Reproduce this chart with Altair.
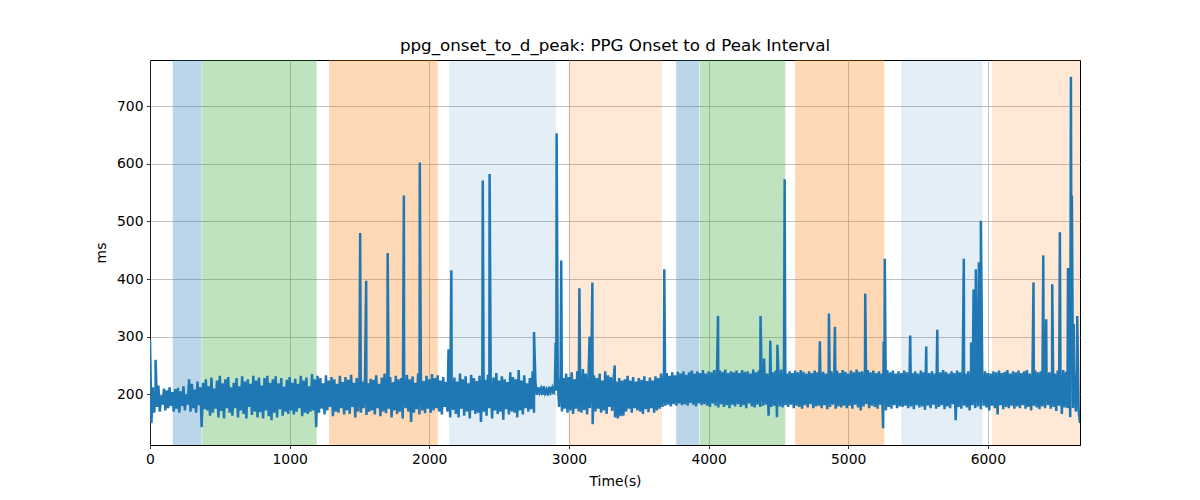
import altair as alt
import pandas as pd

base_values = [
    295, 150, 212, 168, 205, 178, 215, 170, 198, 182, 210, 172, 207, 176, 212, 180, 204, 170, 209, 175,
    211, 168, 205, 180, 214, 172, 200, 182, 226, 170, 218, 176, 208, 168, 222, 181, 212, 143, 220, 174,
    226, 172, 214, 163, 229, 168, 210, 175, 224, 160, 232, 171, 219, 158, 226, 176, 230, 168, 212, 163,
    220, 176, 228, 160, 214, 172, 231, 166, 222, 158, 226, 178, 218, 164, 232, 170, 224, 160, 229, 169,
    215, 158, 228, 172, 232, 162, 220, 155, 226, 168, 231, 160, 219, 174, 228, 163, 213, 170, 225, 166,
    230, 172, 220, 165, 227, 170, 218, 176, 232, 162, 224, 168, 229, 166, 214, 170, 235, 172, 226, 143,
    232, 168, 228, 175, 219, 165, 233, 172, 224, 178, 230, 162, 226, 170, 218, 168, 232, 176, 221, 165,
    230, 172, 225, 166, 234, 178, 220, 160, 228, 170, 232, 168, 222, 176, 230, 164, 219, 170, 227, 172,
    225, 165, 233, 176, 218, 162, 229, 170, 236, 167, 224, 175, 230, 160, 221, 172, 232, 166, 226, 170,
    228, 158, 222, 176, 234, 170, 226, 152, 231, 168, 220, 174, 236, 165, 228, 172, 223, 167, 232, 175,
    226, 168, 235, 172, 228, 176, 233, 170, 224, 165, 230, 178, 221, 170, 232, 160, 225, 173, 229, 166,
    222, 160, 236, 175, 226, 163, 231, 170, 219, 158, 234, 172, 228, 166, 223, 168, 232, 152, 227, 170,
    225, 163, 234, 176, 220, 158, 229, 172, 237, 166, 224, 170, 231, 156, 226, 174, 221, 165, 238, 170,
    230, 168, 226, 160, 242, 172, 224, 165, 233, 176, 219, 170, 228, 174, 240, 168, 222, 199, 212, 203,
    210, 199, 214, 202, 208, 198, 213, 204, 211, 201, 218, 206, 225, 178, 232, 170, 228, 175, 236, 168,
    230, 172, 238, 166, 226, 175, 240, 170, 232, 168, 244, 173, 236, 165, 229, 176, 241, 148, 233, 170,
    228, 175, 236, 168, 224, 172, 240, 166, 233, 178, 230, 171, 226, 160, 222, 158, 228, 162, 224, 163,
    226, 170, 232, 175, 224, 168, 230, 176, 222, 172, 228, 170, 225, 166, 231, 174, 223, 169, 229, 176,
    224, 168, 231, 172, 228, 175, 236, 178, 230, 180, 237, 182, 232, 179, 238, 183, 233, 180, 239, 184,
    236, 181, 240, 183, 234, 180, 238, 185, 241, 182, 236, 179, 240, 184, 237, 181, 242, 183, 236, 180,
    240, 178, 238, 184, 242, 180, 236, 177, 241, 183, 239, 178, 243, 181, 237, 176, 240, 182, 238, 179,
    241, 183, 237, 178, 242, 181, 239, 176, 240, 184, 236, 179, 243, 177, 238, 182, 241, 178, 237, 180,
    240, 182, 236, 163, 242, 178, 238, 180, 241, 160, 237, 179, 243, 177, 239, 181, 236, 178, 240, 182,
    237, 176, 241, 180, 238, 178, 242, 175, 239, 181, 236, 177, 240, 183, 237, 176, 241, 179, 238, 180,
    242, 176, 239, 181, 236, 174, 243, 178, 240, 182, 238, 175, 241, 179, 237, 177, 242, 180, 239, 176,
    236, 180, 241, 175, 238, 182, 243, 177, 239, 172, 240, 179, 237, 183, 242, 176, 238, 180, 241, 178,
    237, 175, 240, 182, 236, 141, 239, 172, 242, 178, 238, 175, 241, 181, 236, 176, 240, 179, 237, 178,
    241, 180, 238, 176, 242, 179, 237, 174, 240, 181, 236, 177, 241, 179, 238, 173, 242, 180, 237, 176,
    240, 182, 236, 175, 241, 178, 238, 181, 242, 174, 239, 179, 236, 176, 240, 183, 237, 155, 241, 178,
    238, 175, 242, 180, 236, 177, 240, 172, 238, 181, 241, 176, 237, 179, 242, 174, 236, 180, 240, 177,
    237, 172, 236, 180, 240, 176, 238, 165, 241, 181, 237, 174, 239, 178, 242, 176, 236, 180, 240, 175,
    238, 179, 241, 176, 237, 181, 240, 175, 242, 178, 236, 172, 239, 180, 241, 177, 238, 174, 240, 179,
    237, 176, 242, 181, 238, 175, 240, 178, 236, 171, 241, 180, 237, 166, 242, 177, 239, 176, 240, 160,
    238, 176, 242, 170, 236, 172, 150,
]
base_step = 10

# Isolated spikes (time in s, value in ms)
spike_times = [40, 1505, 1548, 1702, 1818, 1932, 2138, 2158, 2383, 2432, 2750, 2905, 2912, 2945,
               3075, 3148, 3168, 3328, 3683, 4068, 4372, 4398, 4442, 4493, 4545, 4797, 4862, 4905,
               5122, 5254, 5262, 5444, 5559, 5638, 5828, 5880, 5898, 5914, 5936, 5950, 6327, 6397,
               6418, 6461, 6516, 6574, 6595, 6602, 6615, 6640]
spike_values = [260, 480, 397, 445, 545, 602, 278, 415, 571, 582, 308, 290, 653, 432,
                384, 300, 394, 250, 417, 336, 336, 262, 293, 286, 573, 292, 340, 317,
                375, 291, 435, 302, 283, 312, 435, 290, 382, 417, 429, 501, 394, 441,
                330, 391, 481, 419, 751, 545, 322, 336]

# Shaded periods
span_start = [163, 374, 1282, 2142, 3000, 3768, 3937, 4620, 5380, 6030]
span_end = [370, 1194, 2061, 2908, 3667, 3933, 4549, 5258, 5962, 6660]
span_color = ["#1f77b4", "#2ca02c", "#ff7f0e", "#1f77b4", "#ff7f0e",
              "#1f77b4", "#2ca02c", "#ff7f0e", "#1f77b4", "#ff7f0e"]
span_alpha = [0.3, 0.3, 0.3, 0.12, 0.17, 0.3, 0.3, 0.3, 0.12, 0.17]

base_times = [i * base_step for i in range(len(base_values))]
series = pd.DataFrame({"t": base_times + spike_times, "v": base_values + spike_values})
series = series.sort_values("t", kind="stable").reset_index(drop=True)

spans = pd.DataFrame({"s": span_start, "e": span_end, "c": span_color, "a": span_alpha})

W, H = 930, 385
x_scale = alt.Scale(domain=[0, 6660], nice=False, zero=False)
y_scale = alt.Scale(domain=[112, 780], nice=False, zero=False)

rects = alt.Chart(spans).mark_rect(strokeWidth=1).encode(
    x=alt.X("s:Q", scale=x_scale),
    x2="e:Q",
    color=alt.Color("c:N", scale=None),
    opacity=alt.Opacity("a:Q", scale=None),
)

line = alt.Chart(series).mark_line(color="#1f77b4", strokeWidth=2.5, clip=True,
                                   strokeJoin="miter").encode(
    x=alt.X("t:Q", scale=x_scale, title="Time(s)",
            axis=alt.Axis(values=[0, 1000, 2000, 3000, 4000, 5000, 6000], format="d")),
    y=alt.Y("v:Q", scale=y_scale, title="ms",
            axis=alt.Axis(values=[200, 300, 400, 500, 600, 700], format="d")),
)

chart = alt.layer(rects, line).properties(
    width=W, height=H,
    title=alt.TitleParams("ppg_onset_to_d_peak: PPG Onset to d Peak Interval",
                          fontSize=16.7, fontWeight="normal", font="DejaVu Sans",
                          color="black", anchor="middle", offset=5),
    autosize=alt.AutoSizeParams(type="none"),
    padding={"left": 142, "top": 52, "right": 112, "bottom": 47},
).configure_view(
    stroke="black", strokeWidth=1
).configure_axis(
    grid=True, gridColor="#b0b0b0", gridWidth=0.8, gridOpacity=1,
    domainColor="black", domainWidth=0.8,
    tickColor="black", tickSize=3.5, tickWidth=0.8,
    labelFont="DejaVu Sans", labelFontSize=13.9, labelColor="black", labelPadding=3.5,
    labelFlush=False,
    titleFont="DejaVu Sans", titleFontSize=13.9, titleColor="black", titleFontWeight="normal",
).configure_axisX(
    titlePadding=9, labelAngle=0
).configure_axisY(
    titlePadding=8, labelAngle=0
)

chart.save("out.html", embed_options={"renderer": "svg", "actions": False})
